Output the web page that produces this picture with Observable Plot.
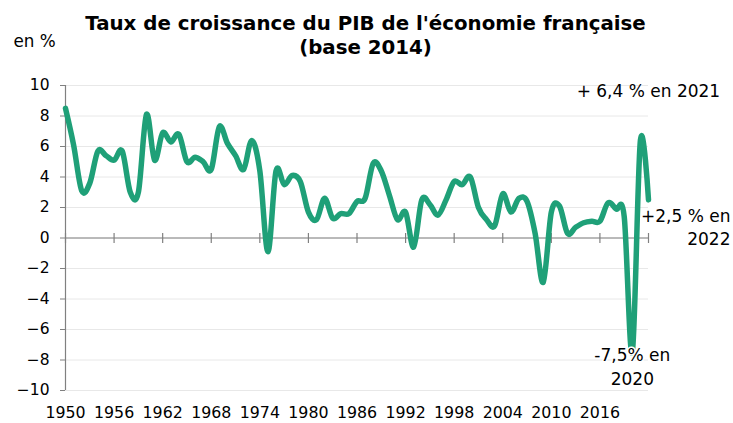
<!DOCTYPE html>
<html>
<head>
<meta charset="utf-8">
<script src="https://cdn.jsdelivr.net/npm/d3@7"></script>
<script src="https://cdn.jsdelivr.net/npm/@observablehq/plot@0.6"></script>
<style>
  html, body { margin: 0; padding: 0; background: #fff; }
  #chart svg { display: block; }
</style>
</head>
<body>
<div id="chart"></div>
<script>
const titleText = "Taux de croissance du PIB de l'économie française\n(base 2014)";
const unitText = "en %";

const years = [
  1950, 1951, 1952, 1953, 1954, 1955, 1956, 1957, 1958, 1959,
  1960, 1961, 1962, 1963, 1964, 1965, 1966, 1967, 1968, 1969,
  1970, 1971, 1972, 1973, 1974, 1975, 1976, 1977, 1978, 1979,
  1980, 1981, 1982, 1983, 1984, 1985, 1986, 1987, 1988, 1989,
  1990, 1991, 1992, 1993, 1994, 1995, 1996, 1997, 1998, 1999,
  2000, 2001, 2002, 2003, 2004, 2005, 2006, 2007, 2008, 2009,
  2010, 2011, 2012, 2013, 2014, 2015, 2016, 2017, 2018, 2019,
  2020, 2021, 2022
];
const growth = [
  8.5, 6.1, 3.1, 3.6, 5.7, 5.4, 5.1, 5.7, 3.0, 3.0,
  8.1, 5.1, 6.9, 6.3, 6.8, 5.0, 5.3, 5.0, 4.5, 7.3,
  6.2, 5.4, 4.5, 6.4, 4.4, -0.9, 4.4, 3.5, 4.1, 3.7,
  1.7, 1.2, 2.6, 1.3, 1.6, 1.6, 2.4, 2.6, 4.9, 4.4,
  2.8, 1.2, 1.7, -0.6, 2.5, 2.2, 1.5, 2.5, 3.7, 3.5,
  4.0, 2.0, 1.2, 0.8, 2.9, 1.7, 2.6, 2.4, 0.3, -2.9,
  1.7, 2.1, 0.3, 0.7, 1.0, 1.1, 1.1, 2.3, 1.9, 1.4,
  -7.5, 6.4, 2.5
];
const yTicks = [-10, -8, -6, -4, -2, 0, 2, 4, 6, 8, 10];
const xTickMarks = [1950, 1956, 1962, 1968, 1974, 1980, 1986, 1992, 1998, 2004, 2010, 2016, 2022];
const xTickLabels = [1950, 1956, 1962, 1968, 1974, 1980, 1986, 1992, 1998, 2004, 2010, 2016];

const annotYears = [2021, 2022, 2020];
const annotTexts = ["+ 6,4 % en 2021", "+2,5 % en\n2022", "-7,5% en\n2020"];

const data = years.map((year, i) => ({year, value: growth[i]}));
const annot = annotYears.map((year, i) => ({year, value: growth[years.indexOf(year)], text: annotTexts[i]}));

const vbar = {
  draw(ctx, size) {
    const r = Math.sqrt(size / Math.PI);
    ctx.moveTo(0, -r);
    ctx.lineTo(0, r);
  }
};

const FONT = "DejaVu Sans";
const axisColor = "#808080";

const chart = Plot.plot({
  width: 733,
  height: 423,
  marginTop: 85,
  marginBottom: 33,
  marginLeft: 65,
  marginRight: 85,
  style: {fontFamily: FONT, fontSize: "15.5px", color: "#000", background: "#fff"},
  x: {domain: [1950, 2022]},
  y: {domain: [-10, 10]},
  marks: [
    Plot.gridY(yTicks, {stroke: "#e8e8e8", strokeOpacity: 1, strokeWidth: 1}),
    Plot.ruleY([0], {stroke: axisColor, strokeWidth: 1.2}),
    Plot.ruleX([1950], {stroke: axisColor, strokeWidth: 1.2}),
    Plot.dot(xTickMarks, {x: d => d, y: () => 0, symbol: vbar, r: 5, stroke: axisColor, strokeWidth: 1.2, fill: "none"}),
    Plot.axisY(yTicks, {anchor: "left", tickSize: 5, tickPadding: 11, stroke: axisColor, fontSize: 15.5, label: null}),
    Plot.axisX(xTickLabels, {anchor: "bottom", tickSize: 0, tickPadding: 16, fontSize: 15.8, label: null, tickFormat: d => String(d)}),
    Plot.line(data, {x: "year", y: "value", stroke: "#1fa078", strokeWidth: 5.5, curve: "cardinal", strokeLinejoin: "round"}),
    // annotations
    Plot.text([annot[0]], {x: "year", y: "value", text: "text", dx: 8, dy: -43, textAnchor: "middle", lineAnchor: "bottom", fontSize: 17, fill: "#000"}),
    Plot.text([annot[1]], {x: "year", y: "value", text: "text", dx: 82, dy: 45.5, textAnchor: "end", lineAnchor: "bottom", fontSize: 17, lineHeight: 1.36, fill: "#000"}),
    Plot.text([annot[2]], {x: "year", y: "value", text: "text", dx: 0, dy: 33, textAnchor: "middle", lineAnchor: "bottom", fontSize: 17, lineHeight: 1.43, fill: "#000", stroke: "#fff", strokeWidth: 3}),
    // title and unit
    Plot.text([titleText], {frameAnchor: "top", text: d => d, dx: 8.5, dy: -32, textAnchor: "middle", lineAnchor: "bottom", fontSize: 19.8, fontWeight: "bold", lineHeight: 1.17, fill: "#000"}),
    Plot.text([unitText], {frameAnchor: "top-left", text: d => d, dx: -52, dy: -39, textAnchor: "start", lineAnchor: "bottom", fontSize: 16.8, fill: "#000"})
  ]
});

document.getElementById("chart").appendChild(chart);
</script>
</body>
</html>
